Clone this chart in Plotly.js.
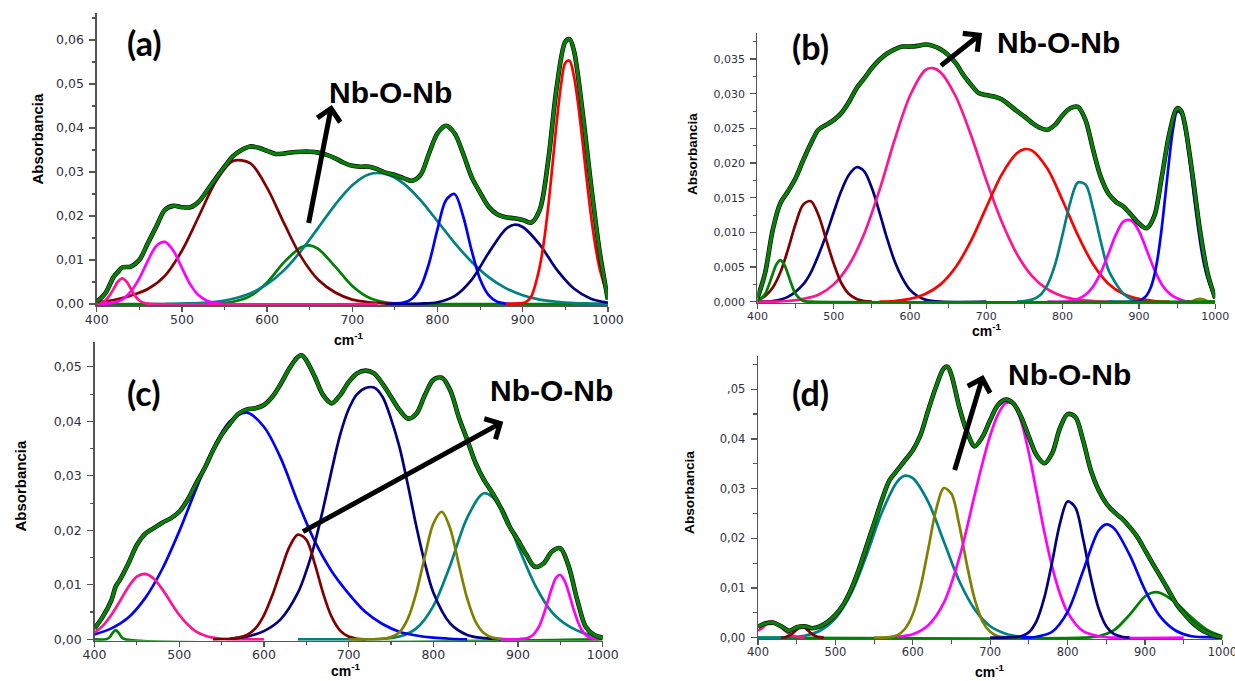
<!DOCTYPE html>
<html>
<head>
<meta charset="utf-8">
<script src="https://cdn.plot.ly/plotly-3.0.1.min.js"></script>
<style>html,body{margin:0;padding:0;background:#fff;}#chart{width:1235px;height:681px;}</style>
</head>
<body>
<div id="chart"></div>
<script>
// ---------- shared tick labels ----------
const xTickVals = [400, 500, 600, 700, 800, 900, 1000];
const xTickText = ['400', '500', '600', '700', '800', '900', '1000'];
const aYTickVals = [0, 0.01, 0.02, 0.03, 0.04, 0.05, 0.06];
const aYTickText = ['0,00', '0,01', '0,02', '0,03', '0,04', '0,05', '0,06'];
const bYTickVals = [0, 0.005, 0.01, 0.015, 0.02, 0.025, 0.03, 0.035];
const bYTickText = ['0,000', '0,005', '0,010', '0,015', '0,020', '0,025', '0,030', '0,035'];
const cYTickVals = [0, 0.01, 0.02, 0.03, 0.04, 0.05];
const cYTickText = ['0,00', '0,01', '0,02', '0,03', '0,04', '0,05'];
const dYTickVals = [0, 0.01, 0.02, 0.03, 0.04, 0.05];
const dYTickText = ['0,00', '0,01', '0,02', '0,03', '0,04', ',05'];
const panelLabels = ['(a)', '(b)', '(c)', '(d)'];
const bandLabel = 'Nb-O-Nb';
const yTitle = 'Absorbancia';
const xTitle = 'cm<sup>-1</sup>';

// ---------- panel (a) ----------
const a_pink_x = [400,405,410,415,420,425,430,435,440,445,450,455,460,470,730];
const a_pink_y = [0.0001,0.0003,0.0008,0.0019,0.0035,0.0051,0.0058,0.0051,0.0035,0.0019,0.0008,0.0003,0.0001,0,0];
const a_magenta_x = [400,410,420,430,440,450,460,470,480,490,500,510,520,530,540,550,560];
const a_magenta_y = [0,0.0001,0.0003,0.0010,0.0028,0.0058,0.0098,0.0132,0.0141,0.0121,0.0082,0.0044,0.0019,0.0007,0.0002,0,0];
const a_maroon_x = [400,420,440,460,480,500,520,540,560,580,600,620,640,660,680,700,720,740,760];
const a_maroon_y = [0.0004,0.0009,0.0019,0.0034,0.0064,0.0121,0.0200,0.0279,0.0325,0.0320,0.0264,0.0183,0.0107,0.0055,0.0026,0.0010,0.0004,0.0001,0];
const a_green_x = [400,540,560,580,600,620,640,650,660,680,700,720,740,760,780,1000];
const a_green_y = [0,0.0001,0.0005,0.0018,0.0049,0.0095,0.0129,0.0133,0.0125,0.0085,0.0041,0.0014,0.0003,0.0001,0,0];
const a_teal_x = [480,500,520,540,560,580,600,620,640,660,680,700,720,740,760,780,800,820,840,860,880,900,920,940,960,980,1000];
const a_teal_y = [0,0.0001,0.0002,0.0005,0.0012,0.0024,0.0045,0.0077,0.0121,0.0173,0.0226,0.0270,0.0295,0.0295,0.0274,0.0236,0.0188,0.0139,0.0096,0.0061,0.0036,0.0020,0.0010,0.0005,0.0002,0.0001,0];
const a_blue_x = [740,750,760,770,780,790,800,810,820,830,840,850,860,870,880,890];
const a_blue_y = [0,0.0001,0.0003,0.0012,0.0038,0.0092,0.0170,0.0236,0.0250,0.0200,0.0122,0.0056,0.0020,0.0005,0.0001,0];
const a_navy_x = [740,760,780,800,820,840,860,880,890,900,920,940,960,980,1000];
const a_navy_y = [0,0,0.0001,0.0004,0.0018,0.0055,0.0116,0.0170,0.0180,0.0175,0.0135,0.0078,0.0035,0.0012,0.0003];
const a_red_x = [880,890,900,905,910,915,920,925,930,935,940,945,950,955,960,965,970,975,980,985,990,995,1000];
const a_red_y = [0,0.0001,0.0002,0.0006,0.0017,0.0045,0.0085,0.0143,0.0222,0.0317,0.0415,0.0498,0.0548,0.0553,0.0519,0.0455,0.0373,0.0285,0.0203,0.0135,0.0083,0.0048,0.0018];
const a_fit_x = [400,410,420,425,430,440,450,460,470,480,490,500,510,520,530,540,550,560,570,580,590,600,610,620,630,640,650,660,670,680,690,700,710,720,730,740,750,760,770,780,790,800,810,820,830,840,850,860,870,880,890,900,910,920,930,940,950,955,960,970,980,990,1000];
const a_fit_y = [0.0005,0.0024,0.0062,0.0073,0.0083,0.0085,0.0100,0.0138,0.0176,0.0214,0.0223,0.0220,0.0220,0.0233,0.0259,0.0286,0.0312,0.0336,0.0350,0.0358,0.0355,0.0348,0.0341,0.0342,0.0345,0.0346,0.0346,0.0344,0.0339,0.0331,0.0321,0.0314,0.0312,0.0312,0.0306,0.0298,0.0293,0.0286,0.0280,0.0293,0.0342,0.0388,0.0405,0.0388,0.0342,0.0289,0.0253,0.0221,0.0204,0.0197,0.0195,0.0191,0.0185,0.0214,0.0327,0.0494,0.0596,0.0602,0.0577,0.0441,0.0274,0.0123,0.0010];

// ---------- panel (b) ----------
const b_green_x = [400,405,410,415,420,425,430,435,440,445,450,455,460,470,1000];
const b_green_y = [0.0001,0.0005,0.0011,0.0024,0.0040,0.0054,0.0060,0.0054,0.0040,0.0024,0.0011,0.0005,0.0001,0,0];
const b_maroon_x = [400,410,420,430,440,450,460,470,480,490,500,510,520,530,540,550];
const b_maroon_y = [0.0002,0.0008,0.0020,0.0042,0.0075,0.0112,0.0140,0.0145,0.0125,0.0090,0.0055,0.0027,0.0011,0.0004,0.0001,0];
const b_navy_x = [400,420,440,460,470,480,490,500,510,520,530,540,550,560,570,580,590,600,610,620,640,700];
const b_navy_y = [0,0.0001,0.0007,0.0025,0.0042,0.0067,0.0096,0.0129,0.0160,0.0183,0.0194,0.0188,0.0164,0.0129,0.0091,0.0058,0.0034,0.0017,0.0008,0.0003,0,0];
const b_pink_x = [400,420,440,460,480,500,520,540,560,580,600,620,630,640,660,680,700,720,740,760,780,800,820,840,860];
const b_pink_y = [0,0,0.0001,0.0004,0.0010,0.0025,0.0053,0.0098,0.0161,0.0234,0.0297,0.0334,0.0337,0.0331,0.0296,0.0240,0.0175,0.0116,0.0069,0.0037,0.0018,0.0008,0.0003,0.0001,0];
const b_red_x = [560,580,600,620,640,660,680,700,720,740,750,760,780,800,820,840,860,880,900,920,940];
const b_red_y = [0,0.0001,0.0004,0.0011,0.0025,0.0050,0.0088,0.0136,0.0183,0.0214,0.0220,0.0218,0.0192,0.0146,0.0096,0.0054,0.0026,0.0011,0.0004,0.0001,0];
const b_teal_x = [740,750,760,770,780,790,800,810,820,830,840,850,860,870,880,890,900];
const b_teal_y = [0,0.0001,0.0003,0.0009,0.0024,0.0053,0.0097,0.0143,0.0172,0.0169,0.0134,0.0087,0.0046,0.0026,0.0011,0.0004,0.0001];
const b_magenta_x = [780,800,810,820,830,840,850,860,870,880,890,900,910,920,930,940,950,960,970];
const b_magenta_y = [0,0,0.0001,0.0004,0.0010,0.0022,0.0042,0.0069,0.0097,0.0116,0.0117,0.0102,0.0075,0.0047,0.0025,0.0012,0.0005,0.0001,0];
const b_blue_x = [860,900,905,910,915,920,925,930,935,940,945,950,955,960,965,970,975,980,985,990,995,1000];
const b_blue_y = [0,0.0001,0.0004,0.0009,0.0019,0.0037,0.0066,0.0107,0.0157,0.0208,0.0251,0.0274,0.0272,0.0251,0.0216,0.0172,0.0128,0.0088,0.0056,0.0034,0.0019,0.0010];
const b_olive_x = [960,970,975,980,985,990,1000];
const b_olive_y = [0,0.0001,0.0003,0.0004,0.0003,0.0001,0];
const b_fit_x = [400,410,420,430,440,450,460,470,480,490,500,510,520,530,540,550,560,570,580,590,600,610,620,630,640,650,660,670,680,690,700,710,720,730,740,750,760,770,780,790,800,810,820,830,840,850,860,870,880,890,900,910,920,930,940,950,955,960,970,980,990,1000];
const b_fit_y = [0.0005,0.0041,0.0103,0.0142,0.0159,0.0178,0.0204,0.0228,0.0248,0.0255,0.0262,0.0272,0.0288,0.0308,0.0322,0.0337,0.0349,0.0358,0.0364,0.0368,0.0368,0.0369,0.0371,0.0369,0.0364,0.0356,0.0344,0.0327,0.0313,0.0301,0.0298,0.0296,0.0292,0.0284,0.0275,0.0267,0.0258,0.0251,0.0248,0.0255,0.0269,0.0279,0.0281,0.0262,0.0219,0.0180,0.0156,0.0144,0.0137,0.0125,0.0113,0.0106,0.0123,0.0180,0.0243,0.0279,0.0276,0.0257,0.0185,0.0103,0.0041,0.0005];

// ---------- panel (c) ----------
const c_green_x = [400,414,418,421,425,429,432,436,1000];
const c_green_y = [0,0,0.0004,0.0011,0.0017,0.0011,0.0004,0,0];
const c_pink_x = [400,410,420,430,440,450,460,470,480,490,500,510,520,530,540,550,560,600];
const c_pink_y = [0.0012,0.0025,0.0045,0.0070,0.0096,0.0115,0.0120,0.0111,0.0092,0.0068,0.0045,0.0027,0.0014,0.0007,0.0003,0.0001,0,0];
const c_blue_x = [400,420,440,460,480,500,520,540,560,580,600,620,640,660,680,700,720,740,760,780,800,820,840];
const c_blue_y = [0.0009,0.0020,0.0040,0.0076,0.0129,0.0198,0.0276,0.0349,0.0400,0.0416,0.0390,0.0332,0.0252,0.0180,0.0125,0.0084,0.0050,0.0028,0.0014,0.0007,0.0003,0.0001,0];
const c_maroon_x = [540,560,570,580,590,600,610,620,630,640,650,660,670,680,690,700,710,720];
const c_maroon_y = [0,0.0001,0.0003,0.0008,0.0020,0.0044,0.0081,0.0126,0.0169,0.0192,0.0183,0.0139,0.0084,0.0041,0.0016,0.0005,0.0001,0];
const c_navy_x = [560,580,600,620,640,650,660,670,680,690,700,710,720,730,740,750,760,770,780,790,800,820,840,860,880];
const c_navy_y = [0.0001,0.0005,0.0015,0.0037,0.0085,0.0125,0.0176,0.0240,0.0310,0.0375,0.0422,0.0450,0.0461,0.0462,0.0445,0.0405,0.0353,0.0283,0.0207,0.0140,0.0086,0.0029,0.0008,0.0002,0];
const c_olive_x = [700,740,750,760,770,780,790,800,810,820,830,840,850,860,870,880,890];
const c_olive_y = [0,0.0001,0.0004,0.0013,0.0038,0.0086,0.0152,0.0212,0.0234,0.0203,0.0138,0.0075,0.0032,0.0011,0.0003,0.0001,0];
const c_teal_x = [640,720,740,760,780,800,820,840,860,880,900,920,940,960,980,1000];
const c_teal_y = [0,0,0.0001,0.0005,0.0020,0.0061,0.0136,0.0223,0.0268,0.0243,0.0171,0.0100,0.0050,0.0024,0.0010,0.0003];
const c_magenta_x = [880,900,905,910,915,920,925,930,935,940,945,950,955,960,965,970,975,980,985,990,995];
const c_magenta_y = [0,0,0.0001,0.0002,0.0005,0.0012,0.0024,0.0044,0.0069,0.0094,0.0113,0.0118,0.0107,0.0085,0.0058,0.0035,0.0018,0.0008,0.0003,0.0001,0];
const c_fit_x = [400,410,420,425,430,440,450,460,470,480,490,500,510,520,530,540,550,560,570,580,590,600,610,620,630,640,645,650,660,670,680,690,700,710,720,730,740,750,760,770,780,790,800,810,820,830,840,850,860,870,880,890,900,910,920,930,940,950,960,970,980,990,1000];
const c_fit_y = [0.0020,0.0042,0.0072,0.0097,0.0109,0.0139,0.0173,0.0194,0.0204,0.0214,0.0222,0.0234,0.0256,0.0286,0.0314,0.0347,0.0375,0.0396,0.0414,0.0422,0.0424,0.0430,0.0445,0.0469,0.0497,0.0518,0.0521,0.0512,0.0482,0.0448,0.0433,0.0448,0.0472,0.0488,0.0493,0.0488,0.0469,0.0445,0.0421,0.0405,0.0414,0.0448,0.0476,0.0480,0.0457,0.0408,0.0366,0.0323,0.0292,0.0268,0.0240,0.0207,0.0182,0.0155,0.0133,0.0139,0.0161,0.0167,0.0133,0.0072,0.0023,0.0008,0.0003];

// ---------- panel (d) ----------
const d_pink_x = [400,405,410,415,420,425,430,435,440,445,450,455,460];
const d_pink_y = [0.0014,0.0019,0.0026,0.0031,0.0032,0.0028,0.0021,0.0014,0.0008,0.0004,0.0002,0.0001,0];
const d_maroon_x = [430,435,440,445,450,455,460,465,470,475,480,485];
const d_maroon_y = [0,0.0001,0.0004,0.0009,0.0016,0.0020,0.0020,0.0014,0.0007,0.0003,0.0001,0];
const d_teal_x = [400,420,440,460,480,500,520,540,560,580,590,600,620,640,660,680,700,720,740,760];
const d_teal_y = [0,0,0.0001,0.0004,0.0014,0.0039,0.0088,0.0165,0.0252,0.0314,0.0326,0.0321,0.0273,0.0194,0.0114,0.0057,0.0023,0.0008,0.0002,0];
const d_olive_x = [550,570,580,590,600,610,620,630,640,650,660,670,680,690,700,710,720,730];
const d_olive_y = [0,0.0001,0.0005,0.0018,0.0047,0.0102,0.0179,0.0257,0.0301,0.0289,0.0227,0.0146,0.0077,0.0033,0.0012,0.0003,0.0001,0];
const d_magenta_x = [580,600,620,640,660,680,690,700,710,720,730,740,750,760,770,780,790,800,820,840,860,950];
const d_magenta_y = [0.0002,0.0007,0.0025,0.0070,0.0160,0.0288,0.0351,0.0407,0.0449,0.0472,0.0470,0.0435,0.0371,0.0292,0.0212,0.0143,0.0089,0.0051,0.0013,0.0003,0,0];
const d_navy_x = [700,730,740,750,760,770,780,790,800,810,820,830,840,850,860,870,880];
const d_navy_y = [0,0.0001,0.0003,0.0011,0.0034,0.0081,0.0152,0.0229,0.0274,0.0262,0.0199,0.0121,0.0059,0.0023,0.0007,0.0002,0];
const d_blue_x = [740,760,780,800,820,840,850,860,880,900,920,940,960,980,1000];
const d_blue_y = [0,0.0002,0.0012,0.0052,0.0134,0.0215,0.0228,0.0220,0.0167,0.0096,0.0042,0.0014,0.0003,0.0001,0];
const d_green_x = [400,820,840,860,880,900,910,920,940,960,980,1000];
const d_green_y = [0,0,0.0003,0.0015,0.0046,0.0083,0.0091,0.0090,0.0070,0.0041,0.0016,0.0002];
const d_fit_x = [400,410,420,430,440,450,460,470,480,490,500,510,520,530,540,550,560,570,580,590,600,610,620,630,640,645,650,660,670,680,690,700,710,720,730,740,750,760,770,780,790,800,810,820,830,840,850,860,870,880,890,900,910,920,930,940,950,960,970,980,990,1000];
const d_fit_y = [0.0022,0.0029,0.0030,0.0023,0.0014,0.0021,0.0023,0.0019,0.0023,0.0032,0.0046,0.0066,0.0096,0.0136,0.0183,0.0230,0.0277,0.0317,0.0337,0.0357,0.0377,0.0408,0.0458,0.0505,0.0542,0.0545,0.0528,0.0464,0.0414,0.0385,0.0404,0.0438,0.0468,0.0479,0.0471,0.0444,0.0404,0.0367,0.0351,0.0371,0.0421,0.0450,0.0444,0.0397,0.0337,0.0297,0.0270,0.0253,0.0240,0.0223,0.0203,0.0176,0.0149,0.0123,0.0096,0.0069,0.0049,0.0032,0.0019,0.0010,0.0004,0.0001];

// ---------- styles ----------
const COL = {pink:'#ff1493', magenta:'#ff00ff', maroon:'#800000', green:'#008000', teal:'#008080',
             blue:'#0000ff', navy:'#000080', red:'#ff0000', olive:'#808000'};
const COMP_W = 2.7, FIT_W = 3.4, RAW_W = 4.6;

const traces = [];
function comp(x, y, color, n) {
  traces.push({x: x, y: y, mode: 'lines', hoverinfo: 'skip',
    line: {color: color, width: COMP_W, shape: 'spline', smoothing: 0.9},
    xaxis: n === 1 ? 'x' : 'x' + n, yaxis: n === 1 ? 'y' : 'y' + n});
}
function fit(x, y, n) {
  const xa = n === 1 ? 'x' : 'x' + n, ya = n === 1 ? 'y' : 'y' + n;
  traces.push({x: x, y: y, mode: 'lines', hoverinfo: 'skip',
    line: {color: '#000000', width: RAW_W, shape: 'spline', smoothing: 0.9}, xaxis: xa, yaxis: ya});
  traces.push({x: x, y: y, mode: 'lines', hoverinfo: 'skip',
    line: {color: '#0a800a', width: FIT_W, shape: 'spline', smoothing: 0.9}, xaxis: xa, yaxis: ya});
}

// panel a
comp(a_green_x, a_green_y, COL.green, 1);
comp(a_teal_x, a_teal_y, COL.teal, 1);
comp(a_maroon_x, a_maroon_y, COL.maroon, 1);
comp(a_magenta_x, a_magenta_y, COL.magenta, 1);
comp(a_blue_x, a_blue_y, COL.blue, 1);
comp(a_navy_x, a_navy_y, COL.navy, 1);
comp(a_red_x, a_red_y, COL.red, 1);
comp(a_pink_x, a_pink_y, COL.pink, 1);
fit(a_fit_x, a_fit_y, 1);
// panel b
comp(b_olive_x, b_olive_y, COL.olive, 2);
comp(b_navy_x, b_navy_y, COL.navy, 2);
comp(b_pink_x, b_pink_y, COL.pink, 2);
comp(b_red_x, b_red_y, COL.red, 2);
comp(b_teal_x, b_teal_y, COL.teal, 2);
comp(b_magenta_x, b_magenta_y, COL.magenta, 2);
comp(b_blue_x, b_blue_y, COL.blue, 2);
comp(b_maroon_x, b_maroon_y, COL.maroon, 2);
comp(b_green_x, b_green_y, COL.green, 2);
fit(b_fit_x, b_fit_y, 2);
// panel c
comp(c_green_x, c_green_y, COL.green, 3);
comp(c_teal_x, c_teal_y, COL.teal, 3);
comp(c_blue_x, c_blue_y, COL.blue, 3);
comp(c_pink_x, c_pink_y, COL.pink, 3);
comp(c_navy_x, c_navy_y, COL.navy, 3);
comp(c_maroon_x, c_maroon_y, COL.maroon, 3);
comp(c_olive_x, c_olive_y, COL.olive, 3);
comp(c_magenta_x, c_magenta_y, COL.magenta, 3);
fit(c_fit_x, c_fit_y, 3);
// panel d
comp(d_green_x, d_green_y, COL.green, 4);
comp(d_teal_x, d_teal_y, COL.teal, 4);
comp(d_olive_x, d_olive_y, COL.olive, 4);
comp(d_magenta_x, d_magenta_y, COL.magenta, 4);
comp(d_navy_x, d_navy_y, COL.navy, 4);
comp(d_blue_x, d_blue_y, COL.blue, 4);
comp(d_pink_x, d_pink_y, COL.pink, 4);
comp(d_maroon_x, d_maroon_y, COL.maroon, 4);
fit(d_fit_x, d_fit_y, 4);

// ---------- axes ----------
const AX = '#555555', TXT = '#30303c';
function xAxis(domain, anchor, fs) {
  return {domain: domain, anchor: anchor, range: [400, 1000], showgrid: false, zeroline: false,
    showline: true, linecolor: AX, linewidth: 1.3, layer: 'below traces',
    ticks: 'outside', ticklen: 5, tickwidth: 1.3, tickcolor: AX,
    tickmode: 'array', tickvals: xTickVals, ticktext: xTickText, ticklabelstandoff: -3,
    ticklabeloverflow: 'allow',
    tickfont: {family: 'DejaVu Sans', size: fs, color: TXT},
    minor: {ticks: 'outside', ticklen: 3.5, tickwidth: 1.1, tickcolor: AX, dtick: 50, tick0: 400, showgrid: false}};
}
function yAxis(domain, anchor, range, tv, tt, fs, mdt) {
  return {domain: domain, anchor: anchor, range: range, showgrid: false, zeroline: false,
    showline: true, linecolor: AX, linewidth: 1.3, layer: 'below traces',
    ticks: 'outside', ticklen: 6, tickwidth: 1.3, tickcolor: AX,
    tickmode: 'array', tickvals: tv, ticktext: tt, ticklabelstandoff: 3,
    ticklabeloverflow: 'allow',
    tickfont: {family: 'DejaVu Sans', size: fs, color: TXT},
    minor: {ticks: 'outside', ticklen: 3.5, tickwidth: 1.1, tickcolor: AX, dtick: mdt, tick0: 0, showgrid: false}};
}

const W = 1235, H = 681;
const px = v => v / W, py = v => 1 - v / H;

const annotations = [];
function txt(x, y, text, family, size, angle) {
  annotations.push({xref: 'paper', yref: 'paper', x: px(x), y: py(y), text: text, showarrow: false,
    xanchor: 'center', yanchor: 'middle', textangle: angle || 0,
    font: {family: family, size: size, color: '#000000'}});
}
function arrow(hx, hy, tx, ty) {
  annotations.push({xref: 'paper', yref: 'paper', x: px(hx), y: py(hy), ax: tx - hx, ay: ty - hy,
    text: ' ', showarrow: true, arrowhead: 4, arrowsize: 0.9, arrowwidth: 5, arrowcolor: '#000000', standoff: 0});
}
// panel labels
txt(144.5, 42.5, '<b>' + panelLabels[0] + '</b>', 'Lato', 34);
txt(810, 47, '<b>' + panelLabels[1] + '</b>', 'Lato', 34);
txt(143, 392, '<b>' + panelLabels[2] + '</b>', 'Lato', 34);
txt(810, 392, '<b>' + panelLabels[3] + '</b>', 'Lato', 34);
// Nb-O-Nb
txt(390, 93, '<b>' + bandLabel + '</b>', 'Liberation Sans', 30);
txt(1058, 42, '<b>' + bandLabel + '</b>', 'Liberation Sans', 30);
txt(551, 390, '<b>' + bandLabel + '</b>', 'Liberation Sans', 30);
txt(1069, 374, '<b>' + bandLabel + '</b>', 'Liberation Sans', 30);
// y titles
txt(36.5, 139, '<b>' + yTitle + '</b>', 'Liberation Sans', 15, -90);
txt(692, 154, '<b>' + yTitle + '</b>', 'Liberation Sans', 13.5, -90);
txt(19.5, 486, '<b>' + yTitle + '</b>', 'Liberation Sans', 15, -90);
txt(689, 493, '<b>' + yTitle + '</b>', 'Liberation Sans', 13.7, -90);
// x titles
txt(348, 339, '<b>' + xTitle + '</b>', 'Liberation Sans', 14);
txt(987, 330, '<b>' + xTitle + '</b>', 'Liberation Sans', 14);
txt(345, 670, '<b>' + xTitle + '</b>', 'Liberation Sans', 14);
txt(989, 671, '<b>' + xTitle + '</b>', 'Liberation Sans', 14);
// arrows
arrow(331.7, 105, 306.7, 233);
arrow(982, 33, 938, 68);
arrow(503.3, 421.7, 300, 533.3);
arrow(983.3, 375, 951.7, 480);

const layout = {
  width: W, height: H, margin: {l: 0, r: 0, t: 0, b: 0},
  paper_bgcolor: '#ffffff', plot_bgcolor: 'rgba(0,0,0,0)', showlegend: false,
  xaxis: xAxis([0.07830, 0.49223], 'y', 12.5),
  yaxis: yAxis([0.55169, 0.98135], 'x', [-0.0003, 0.0662], aYTickVals, aYTickText, 12.5, 0.005),
  xaxis2: xAxis([0.61328, 0.98397], 'y2', 11),
  yaxis2: yAxis([0.55492, 0.95198], 'x2', [-0.0002, 0.0388], bYTickVals, bYTickText, 11, 0.0025),
  xaxis3: xAxis([0.07652, 0.48802], 'y3', 12.5),
  yaxis3: yAxis([0.05924, 0.49736], 'x3', [-0.00025, 0.0545], cYTickVals, cYTickText, 12.5, 0.005),
  xaxis4: xAxis([0.61377, 0.98980], 'y4', 11.5),
  yaxis4: yAxis([0.06169, 0.47739], 'x4', [-0.00026, 0.0567], dYTickVals, dYTickText, 11.5, 0.005),
  annotations: annotations
};

Plotly.newPlot('chart', traces, layout, {displayModeBar: false, staticPlot: true});
</script>
</body>
</html>
